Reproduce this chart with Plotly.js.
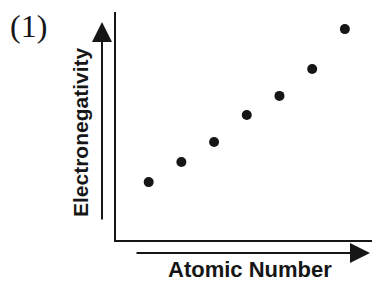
<!DOCTYPE html>
<html>
<head>
<meta charset="utf-8">
<script src="https://cdn.plot.ly/plotly-3.0.1.min.js"></script>
<style>html,body{margin:0;padding:0;background:#fff;}#chart{width:372px;height:281px;}</style>
</head>
<body>
<div id="chart"></div>
<script>
// Data (arbitrary units; axes have no ticks)
const atomicNumber = [1, 2, 3, 4, 5, 6, 7];
const electronegativity = [2.54, 3.42, 4.30, 5.48, 6.32, 7.50, 9.25];
const panelLabel = "(1)";
const xTitle = "Atomic Number";
const yTitle = "Electronegativity";

const W = 372, H = 281;
const mL = 116, mR = 0, mT = 12, mB = 41;
const pw = W - mL - mR, ph = H - mT - mB;
const px = p => (p - mL) / pw;          // pixel x -> paper
const py = p => (H - mB - p) / ph;       // pixel y -> paper

const ink = "#161616";

const trace = {
  x: atomicNumber,
  y: electronegativity,
  type: "scatter",
  mode: "markers",
  marker: {color: ink, size: 10},
  hoverinfo: "skip"
};

const layout = {
  width: W, height: H,
  margin: {l: mL, r: mR, t: mT, b: mB, pad: 0},
  paper_bgcolor: "#fff", plot_bgcolor: "#fff",
  showlegend: false,
  xaxis: {range: [0, 7.83], showline: true, linecolor: ink, linewidth: 2,
          showgrid: false, zeroline: false, showticklabels: false, ticks: "", fixedrange: true},
  yaxis: {range: [0, 10], showline: true, linecolor: ink, linewidth: 2,
          showgrid: false, zeroline: false, showticklabels: false, ticks: "", fixedrange: true},
  annotations: [
    {text: panelLabel, xref: "paper", yref: "paper", x: px(8), y: py(6),
     xanchor: "left", yanchor: "top", showarrow: false,
     font: {family: "Liberation Serif, Times New Roman, serif", size: 32, color: ink}},
    {text: yTitle, xref: "paper", yref: "paper", x: px(80), y: py(132),
     xanchor: "center", yanchor: "middle", textangle: -90, showarrow: false,
     font: {family: "Liberation Sans, Arial, sans-serif", size: 21, color: ink, weight: "bold"}},
    {text: xTitle, xref: "paper", yref: "paper", x: px(250), y: py(269),
     xanchor: "center", yanchor: "middle", showarrow: false,
     font: {family: "Liberation Sans, Arial, sans-serif", size: 22, color: ink, weight: "bold"}},
    // vertical arrow beside the y axis
    {text: "", xref: "paper", yref: "paper", x: px(102), y: py(22),
     axref: "pixel", ayref: "pixel", ax: 0, ay: 199,
     showarrow: true, arrowhead: 2, arrowsize: 2, arrowwidth: 2, arrowcolor: ink},
    // horizontal arrow below the x axis
    {text: "", xref: "paper", yref: "paper", x: px(370), y: py(253),
     axref: "pixel", ayref: "pixel", ax: -235, ay: 0,
     showarrow: true, arrowhead: 2, arrowsize: 2, arrowwidth: 2, arrowcolor: ink}
  ]
};

Plotly.newPlot("chart", [trace], layout, {staticPlot: true, displayModeBar: false});
</script>
</body>
</html>
